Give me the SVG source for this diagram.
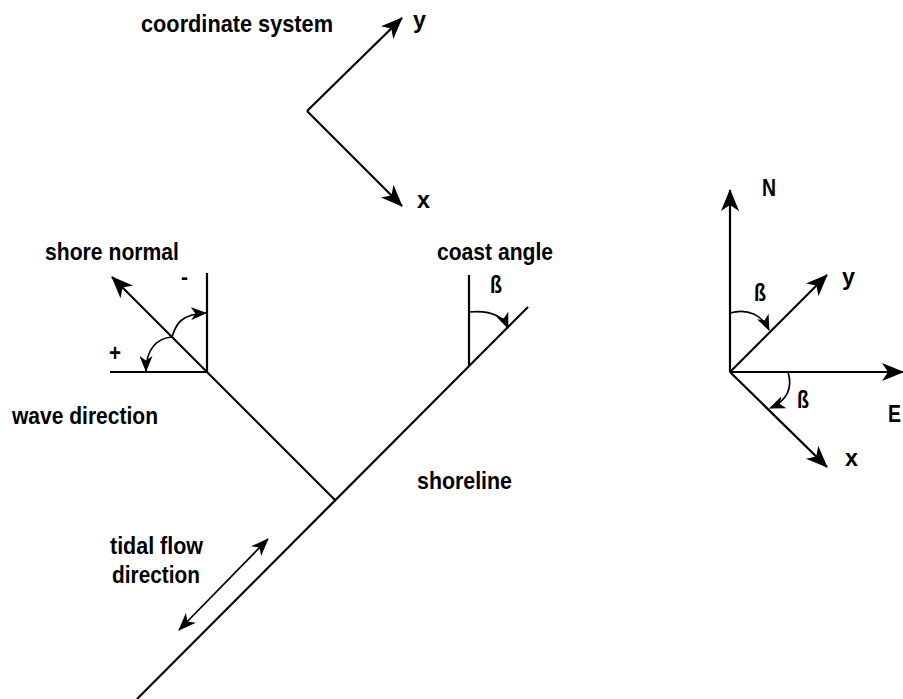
<svg xmlns="http://www.w3.org/2000/svg" width="903" height="699" viewBox="0 0 903 699">
<defs>
<style>
text{font-family:"Liberation Sans",Arial,sans-serif;font-weight:bold;font-size:24px;fill:#000}
.ln{stroke:#000;stroke-width:2.2;fill:none}
.thin{stroke:#000;stroke-width:1.7;fill:none}
.ax{marker-end:url(#big)}
.cv{marker-end:url(#small)}
</style>
<marker id="big" viewBox="0 0 22 18" refX="21" refY="9" markerWidth="22" markerHeight="18" markerUnits="userSpaceOnUse" orient="auto">
<path d="M0,0 L22,9 L0,18 L6,9 z" fill="#000"/>
</marker>
<marker id="small" viewBox="0 0 16 13" refX="15" refY="6.5" markerWidth="16" markerHeight="13" markerUnits="userSpaceOnUse" orient="auto">
<path d="M0,0 L16,6.5 L0,13 L4.5,6.5 z" fill="#000"/>
</marker>
<marker id="mid" viewBox="0 0 18 14" refX="17" refY="7" markerWidth="18" markerHeight="14" markerUnits="userSpaceOnUse" orient="auto-start-reverse">
<path d="M0,0 L18,7 L0,14 L5,7 z" fill="#000"/>
</marker>
</defs>

<g id="coordinate-system">
<text x="141" y="32" textLength="192" lengthAdjust="spacingAndGlyphs">coordinate system</text>
<path class="ln ax" d="M307,111 L402,18"/>
<path class="ln ax" d="M307,111 L402,206"/>
<text x="413" y="28" textLength="13" lengthAdjust="spacingAndGlyphs">y</text>
<text x="417" y="208" textLength="13" lengthAdjust="spacingAndGlyphs">x</text>
</g>

<g id="shore-normal">
<text x="45" y="260" textLength="134" lengthAdjust="spacingAndGlyphs">shore normal</text>
<text x="181" y="284" style="font-size:22px" textLength="7" lengthAdjust="spacingAndGlyphs">-</text>
<text x="109" y="361" textLength="12" lengthAdjust="spacingAndGlyphs">+</text>
<path class="ln" d="M207,273 L207,372 L110,372"/>
<path class="ln ax" d="M335,500 L112,277"/>
<path class="thin cv" d="M172,337 C176,324 181,314 206,313"/>
<path class="thin cv" d="M172,337 C158,338 146,348 146,371"/>
</g>

<g id="wave-direction">
<text x="12" y="424" textLength="146" lengthAdjust="spacingAndGlyphs">wave direction</text>
</g>

<g id="coast-angle">
<text x="437" y="260" textLength="116" lengthAdjust="spacingAndGlyphs">coast angle</text>
<text x="490" y="293" textLength="12" lengthAdjust="spacingAndGlyphs">ß</text>
<path class="ln" d="M469,275 L469,366"/>
<path class="thin cv" d="M469,312 C490,310 503,316 508,328"/>
</g>

<g id="shoreline">
<path class="ln" d="M528,307 L137,699"/>
<text x="417" y="489" textLength="95" lengthAdjust="spacingAndGlyphs">shoreline</text>
</g>

<g id="tidal-flow">
<text x="110" y="554" textLength="93" lengthAdjust="spacingAndGlyphs">tidal flow</text>
<text x="112" y="583" textLength="88" lengthAdjust="spacingAndGlyphs">direction</text>
<path class="thin" d="M268,539 L179,630" marker-start="url(#mid)" marker-end="url(#mid)"/>
</g>

<g id="compass">
<path class="ln ax" d="M730,372 L730,190"/>
<path class="ln ax" d="M730,372 L903,372"/>
<path class="ln ax" d="M730,372 L827,275"/>
<path class="ln ax" d="M730,372 L827,467"/>
<text x="762" y="196" textLength="14" lengthAdjust="spacingAndGlyphs">N</text>
<text x="888" y="422" textLength="13" lengthAdjust="spacingAndGlyphs">E</text>
<text x="842" y="285" textLength="13" lengthAdjust="spacingAndGlyphs">y</text>
<text x="845" y="466" textLength="13" lengthAdjust="spacingAndGlyphs">x</text>
<text x="754" y="301" textLength="12" lengthAdjust="spacingAndGlyphs">ß</text>
<text x="797" y="408" textLength="12" lengthAdjust="spacingAndGlyphs">ß</text>
<path class="thin cv" d="M730,313 C748,308 762,315 769,330"/>
<path class="thin cv" d="M788,372 C793,388 787,401 770,408"/>
</g>
</svg>
